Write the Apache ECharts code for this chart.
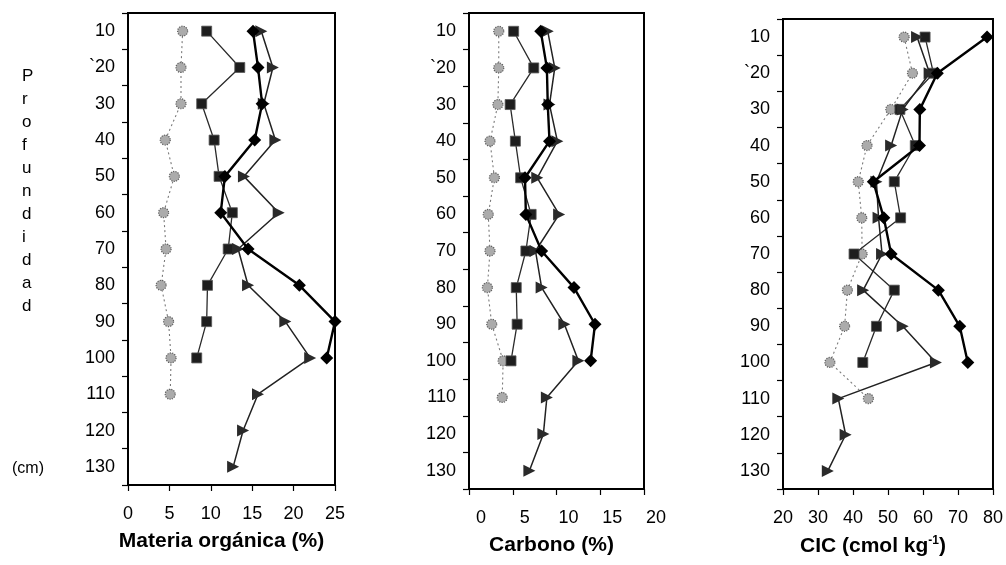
<!DOCTYPE html>
<html>
<head>
<meta charset="utf-8">
<script src="https://cdn.jsdelivr.net/npm/echarts@6/dist/echarts.min.js"></script>
<style>
  html, body { margin: 0; padding: 0; background: #fff; }
  #chart { width: 1006px; height: 565px; }
</style>
</head>
<body>
<div id="chart"></div>
<script>
// Depth levels (cm), shared by the three profiles
const depthLabels = ['10', '`20', '30', '40', '50', '60', '70', '80', '90', '100', '110', '120', '130'];

// Materia orgánica (%)
const moCircle   = [6.6, 6.4, 6.4, 4.5, 5.6, 4.3, 4.6, 4.0, 4.9, 5.2, 5.1, null, null];
const moSquare   = [9.5, 13.5, 8.9, 10.4, 11.0, 12.6, 12.1, 9.6, 9.5, 8.3, null, null, null];
const moDiamond  = [15.1, 15.7, 16.2, 15.3, 11.7, 11.2, 14.5, 20.7, 25.0, 24.0, null, null, null];
const moTriangle = [16.1, 17.5, 16.4, 17.8, 14.0, 18.2, 13.3, 14.5, 19.0, 22.0, 15.7, 13.9, 12.7];

// Carbono (%)
const cCircle   = [3.4, 3.4, 3.3, 2.4, 2.9, 2.2, 2.4, 2.1, 2.6, 3.9, 3.8, null, null];
const cSquare   = [5.1, 7.4, 4.7, 5.3, 5.9, 7.1, 6.5, 5.4, 5.5, 4.8, null, null, null];
const cDiamond  = [8.2, 8.9, 9.0, 9.2, 6.4, 6.5, 8.3, 12.0, 14.4, 13.9, null, null, null];
const cTriangle = [9.0, 9.8, 9.2, 10.1, 7.8, 10.3, 7.6, 8.3, 10.9, 12.5, 8.9, 8.5, 6.9];

// CIC (cmol kg-1)
const cicCircle   = [54.6, 57.0, 50.8, 44.0, 41.5, 42.5, 42.6, 38.4, 37.6, 33.4, 44.4, null, null];
const cicSquare   = [60.6, 63.0, 53.4, 57.8, 51.8, 53.6, 40.3, 51.8, 46.7, 42.8, null, null, null];
const cicDiamond  = [78.3, 64.1, 59.1, 59.0, 45.8, 48.8, 50.9, 64.4, 70.5, 72.8, null, null, null];
const cicTriangle = [58.3, 61.9, 54.2, 50.9, 46.7, 47.3, 48.3, 42.9, 54.2, 63.7, 35.8, 37.9, 32.8];

// Axis ranges and tick steps
const moAxis  = { min: 0,  max: 25, interval: 5 };
const cAxis   = { min: 0,  max: 20, interval: 5 };
const cicAxis = { min: 20, max: 80, interval: 10 };

const FONT = '"Liberation Sans", Arial, sans-serif';

const grids = [
  { left: 128, top: 13, width: 207, height: 472 },
  { left: 469, top: 13, width: 175, height: 476 },
  { left: 783, top: 19, width: 211, height: 470 }
];

function xAxisFor(idx, range, name, labelPad, namePadRight) {
  return {
    gridIndex: idx, type: 'value', min: range.min, max: range.max, interval: range.interval,
    name: name, nameLocation: 'middle', nameGap: 46,
    nameTextStyle: { fontFamily: FONT, fontWeight: 'bold', fontSize: 21, color: '#000',
      padding: [0, namePadRight, 0, 0],
      rich: { sup: { fontFamily: FONT, fontWeight: 'bold', fontSize: 12, color: '#000', padding: [0, 0, 11, 0] } } },
    axisLine: { show: true, lineStyle: { color: '#000', width: 2 } },
    axisTick: { show: true, inside: false, length: 6, lineStyle: { color: '#000', width: 1.2 } },
    axisLabel: { fontFamily: FONT, fontSize: 18, color: '#000', margin: 20, padding: [0, 0, 0, labelPad] },
    splitLine: { show: false }
  };
}

function yAxisFor(idx) {
  return {
    gridIndex: idx, type: 'category', data: depthLabels, inverse: true, boundaryGap: true,
    axisLine: { show: true, lineStyle: { color: '#000', width: 2 } },
    axisTick: { show: true, inside: false, length: 6, lineStyle: { color: '#000', width: 1.2 } },
    axisLabel: { fontFamily: FONT, fontSize: 18, color: '#000', margin: 13 },
    splitLine: { show: false }
  };
}

function profileSeries(idx, circle, square, diamond, triangle) {
  return [
    {
      type: 'line', xAxisIndex: idx, yAxisIndex: idx, data: circle, z: 2,
      symbol: 'circle', symbolSize: 10,
      lineStyle: { color: '#7a7a7a', width: 1.1, type: [2, 3] },
      itemStyle: { color: '#ababab', borderColor: '#5e5e5e', borderWidth: 1.2, borderType: 'dotted' }
    },
    {
      type: 'line', xAxisIndex: idx, yAxisIndex: idx, data: square, z: 3,
      symbol: 'rect', symbolSize: 10,
      lineStyle: { color: '#2a2a2a', width: 1.3 },
      itemStyle: { color: '#1e1e1e', borderColor: '#555', borderWidth: 0.8 }
    },
    {
      type: 'line', xAxisIndex: idx, yAxisIndex: idx, data: triangle, z: 4,
      symbol: 'triangle', symbolSize: 12, symbolRotate: -90,
      lineStyle: { color: '#222', width: 1.5 },
      itemStyle: { color: '#2a2a2a' }
    },
    {
      type: 'line', xAxisIndex: idx, yAxisIndex: idx, data: diamond, z: 5,
      symbol: 'diamond', symbolSize: 13,
      lineStyle: { color: '#000', width: 2.4 },
      itemStyle: { color: '#000' }
    }
  ].map(s => Object.assign({ showSymbol: true, animation: false, connectNulls: false }, s));
}

const chart = echarts.init(document.getElementById('chart'), null, { renderer: 'canvas' });

chart.setOption({
  backgroundColor: '#fff',
  animation: false,
  grid: grids.map(g => Object.assign({ show: true, borderColor: '#000', borderWidth: 2, backgroundColor: 'transparent' }, g)),
  xAxis: [
    xAxisFor(0, moAxis, 'Materia orgánica (%)', 0, 20),
    xAxisFor(1, cAxis, 'Carbono (%)', 24, 10),
    xAxisFor(2, cicAxis, 'CIC (cmol kg{sup|-1})', 0, 30)
  ],
  yAxis: [yAxisFor(0), yAxisFor(1), yAxisFor(2)],
  series: [
    ...profileSeries(0, moCircle, moSquare, moDiamond, moTriangle),
    ...profileSeries(1, cCircle, cSquare, cDiamond, cTriangle),
    ...profileSeries(2, cicCircle, cicSquare, cicDiamond, cicTriangle)
  ],
  graphic: [
    {
      type: 'text', left: 22, top: 65,
      style: {
        text: 'P\nr\no\nf\nu\nn\nd\ni\nd\na\nd',
        font: '17px ' + FONT, fill: '#000', lineHeight: 23, align: 'center'
      }
    },
    {
      type: 'text', left: 12, top: 461,
      style: { text: '(cm)', font: '16px ' + FONT, fill: '#000' }
    }
  ]
});
</script>
</body>
</html>
